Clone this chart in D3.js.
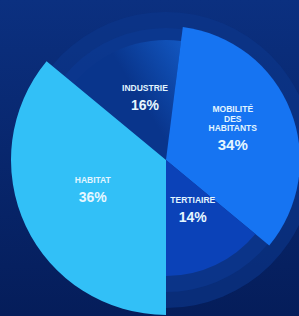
<!DOCTYPE html>
<html>
<head>
<meta charset="utf-8">
<script src="https://cdn.jsdelivr.net/npm/d3@7"></script>
<style>
  body { margin: 0; background: #082868; }
  svg { display: block; }
</style>
</head>
<body>
<script>
// data
var categories = ["INDUSTRIE", "MOBILITÉ DES HABITANTS", "TERTIAIRE", "HABITAT"];
var values = [16, 34, 14, 36];
var labelLines = [["INDUSTRIE"], ["MOBILITÉ", "DES", "HABITANTS"], ["TERTIAIRE"], ["HABITAT"]];

// look of each slice (outer radius, fill, label placement)
var sliceRadius = [120, 134, 116, 155];
var sliceFill = ["url(#gIndus)", "#1674f2", "url(#gTert)", "#32c0f7"];
var labelRadius = [66, 74, 56, 79];
var labelNudge = [3, -4, -3.4, 3.2]; // degrees

var width = 299, height = 316;
var cx = 166, cy = 160;

var svg = d3.select("body")
    .append("svg")
    .attr("width", width)
    .attr("height", height);

var defs = svg.append("defs");

var bg = defs.append("linearGradient")
    .attr("id", "gBg")
    .attr("x1", 0).attr("y1", 0).attr("x2", 0).attr("y2", 1);
bg.append("stop").attr("offset", "0%").attr("stop-color", "#0b3080");
bg.append("stop").attr("offset", "100%").attr("stop-color", "#051d5a");

var gi = defs.append("linearGradient")
    .attr("id", "gIndus")
    .attr("gradientUnits", "userSpaceOnUse")
    .attr("x1", 80).attr("y1", 110).attr("x2", 185).attr("y2", 45);
gi.append("stop").attr("offset", "0%").attr("stop-color", "#09358c");
gi.append("stop").attr("offset", "100%").attr("stop-color", "#1a74ee");

var gt = defs.append("linearGradient")
    .attr("id", "gTert")
    .attr("gradientUnits", "userSpaceOnUse")
    .attr("x1", 170).attr("y1", 170).attr("x2", 200).attr("y2", 280);
gt.append("stop").attr("offset", "0%").attr("stop-color", "#0b42b8");
gt.append("stop").attr("offset", "100%").attr("stop-color", "#0a3496");

svg.append("rect")
    .attr("width", width)
    .attr("height", height)
    .attr("fill", "url(#gBg)");

var g = svg.append("g")
    .attr("transform", "translate(" + cx + "," + cy + ")");

// faint rings behind the pie
g.append("circle").attr("r", 148).attr("fill", "#0c378c").attr("opacity", 0.6);
g.append("circle").attr("r", 132).attr("fill", "#0d3a96").attr("opacity", 0.55);

var pie = d3.pie()
    .sort(null)
    .startAngle(-50.4 * Math.PI / 180)
    .endAngle((360 - 50.4) * Math.PI / 180);

var arcs = pie(values);

var arc = d3.arc()
    .innerRadius(0)
    .outerRadius(function(d){ return sliceRadius[d.index]; });

g.selectAll("path.slice")
    .data(arcs)
    .enter()
    .append("path")
    .attr("class", "slice")
    .attr("d", arc)
    .attr("fill", function(d){ return sliceFill[d.index]; });

// labels
var labels = g.selectAll("g.lbl")
    .data(arcs)
    .enter()
    .append("g")
    .attr("class", "lbl")
    .attr("transform", function(d){
        var a = (d.startAngle + d.endAngle) / 2 + labelNudge[d.index] * Math.PI / 180;
        var r = labelRadius[d.index];
        return "translate(" + (r * Math.sin(a)) + "," + (-r * Math.cos(a)) + ")";
    });

labels.each(function(d){
    var lines = labelLines[d.index];
    var blockH = 6 + (lines.length - 1) * 9.5 + 19;
    var top = -blockH / 2;
    var el = d3.select(this);
    lines.forEach(function(t, k){
        el.append("text")
            .attr("x", 0)
            .attr("y", top + 6 + k * 9.5)
            .attr("text-anchor", "middle")
            .attr("font-family", "Liberation Sans, Arial, sans-serif")
            .attr("font-weight", "bold")
            .attr("font-size", 8.5)
            .attr("fill", "#e2f5ff")
            .text(t);
    });
    el.append("text")
        .attr("x", 0)
        .attr("y", top + 6 + (lines.length - 1) * 9.5 + 19)
        .attr("text-anchor", "middle")
        .attr("font-family", "Liberation Sans, Arial, sans-serif")
        .attr("font-weight", "bold")
        .attr("font-size", d.index == 1 ? 15 : 14)
        .attr("fill", "#e6f7ff")
        .text(values[d.index] + "%");
});
</script>
</body>
</html>
